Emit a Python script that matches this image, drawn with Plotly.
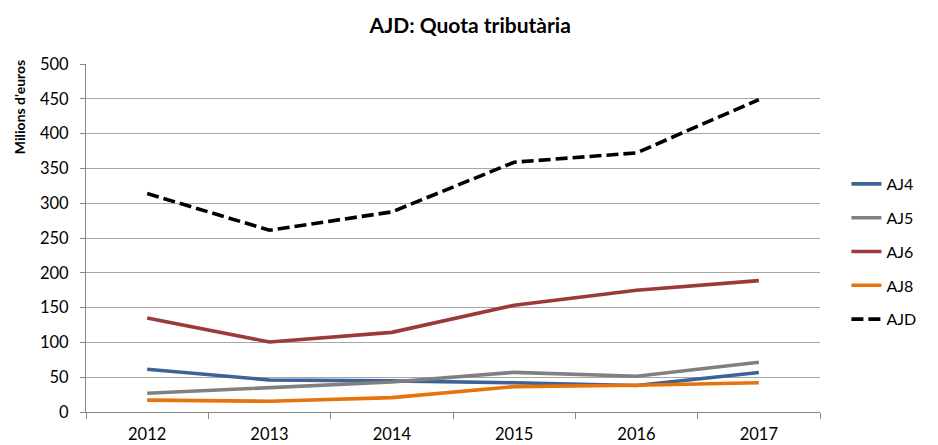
import plotly.graph_objects as go

years = ["2012", "2013", "2014", "2015", "2016", "2017"]
aj4 = [61.5, 46, 44.7, 42, 38, 56.7]
aj5 = [27, 35.6, 43, 57, 51.4, 71.6]
aj6 = [135.2, 100.5, 114.4, 153.4, 175, 188.8]
aj8 = [17, 15.4, 20.7, 36.5, 38.5, 42]
ajd = [313.9, 261.2, 287.5, 358.9, 372.3, 448.9]

series = [
    ("AJ4", aj4, "#3B6396", "solid"),
    ("AJ5", aj5, "#808080", "solid"),
    ("AJ6", aj6, "#9A3A3A", "solid"),
    ("AJ8", aj8, "#E8720C", "solid"),
    ("AJD", ajd, "#000000", "12px,5px"),
]

FONT = "Lato, 'Liberation Sans', sans-serif"

fig = go.Figure()
for i, (name, vals, color, dash) in enumerate(series):
    fig.add_trace(go.Scatter(
        x=years, y=vals, mode="lines", name=name,
        legendgroup=f"g{i}",
        line=dict(color=color, width=3.6, dash=dash),
    ))

fig.update_layout(
    width=930, height=437,
    margin=dict(l=78, r=118, t=56, b=33),
    paper_bgcolor="white", plot_bgcolor="white",
    font=dict(family=FONT, size=16.5, color="#000000"),
    title=dict(text="<b>AJD: Quota tributària</b>", x=0.497, xanchor="center",
               y=1 - 18 / 437, yanchor="middle", font=dict(size=21, family=FONT)),
    showlegend=True,
    legend=dict(x=1.036, xanchor="left", y=0.704, yanchor="top",
                traceorder="grouped", tracegroupgap=10,
                font=dict(size=16, family=FONT), itemwidth=30,
                bgcolor="rgba(0,0,0,0)"),
    xaxis=dict(type="category", range=[-0.5, 5.5], showgrid=False,
               showline=True, linecolor="#868686", linewidth=1,
               ticks="outside", ticklen=6, tickcolor="#868686",
               tickson="boundaries", tickfont=dict(size=16.5),
               ticklabelstandoff=7, automargin=False),
    yaxis=dict(range=[0, 500], dtick=50, showgrid=True, gridcolor="#A6A6A6",
               gridwidth=1, showline=True, linecolor="#868686", linewidth=1,
               ticks="outside", ticklen=5, tickcolor="#868686",
               tickfont=dict(size=16.5), zeroline=False,
               ticklabelstandoff=8, automargin=False),
    annotations=[dict(text="<b>Milions d'euros</b>", xref="paper", yref="paper",
                      x=-0.0913, y=0.876, textangle=-90,
                      showarrow=False, xanchor="center", yanchor="middle",
                      font=dict(size=14, family=FONT))],
)

fig.write_html("out.html")
